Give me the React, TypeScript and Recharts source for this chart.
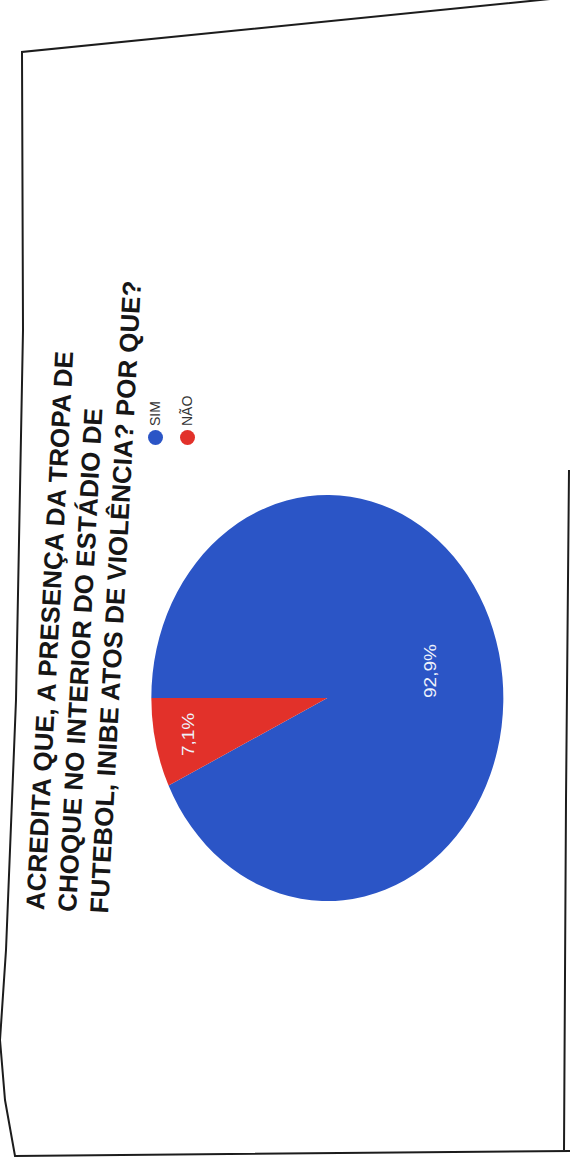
import React from "react";
import { PieChart, Pie, Cell } from "recharts";

const categories = ["SIM", "NÃO"];
const values = [92.9, 7.1];
const sliceLabels = ["92,9%", "7,1%"];
const colors = ["#2b55c6", "#e2312a"];
const titleLines = [
  "ACREDITA QUE, A PRESENÇA DA TROPA DE",
  "CHOQUE NO INTERIOR DO ESTÁDIO DE",
  "FUTEBOL, INIBE ATOS DE VIOLÊNCIA? POR QUE?",
];

const data = categories.map((name, i) => ({ name, value: values[i], label: sliceLabels[i] }));

const FONT = "'Liberation Sans', Arial, Helvetica, sans-serif";
const RADIAN = Math.PI / 180;

const renderLabel = (props: any) => {
  const { cx, cy, midAngle, outerRadius, percent, index } = props;
  const r = outerRadius * (percent > 0.5 ? 0.6 : 0.81);
  const x = cx + r * Math.cos(-midAngle * RADIAN);
  const y = cy + r * Math.sin(-midAngle * RADIAN);
  return (
    <text
      x={x}
      y={y}
      fill="#eef2fb"
      fontSize={19}
      textAnchor="middle"
      dominantBaseline="central"
      fontFamily={FONT}
    >
      {data[index].label}
    </text>
  );
};

export default function App() {
  return (
    <div
      style={{
        position: "absolute",
        left: 0,
        top: 0,
        width: 570,
        height: 1165,
        background: "#ffffff",
        overflow: "hidden",
      }}
    >
      <svg width={570} height={1165} style={{ position: "absolute", left: 0, top: 0 }}>
        <polyline
          points="570,-3 22,52 23,330 16,700 6,950 0,1040 5,1100 15,1156 570,1151"
          fill="none"
          stroke="#1c1c1c"
          strokeWidth={2}
        />
        <polyline points="569,470 566,800 564,1150" fill="none" stroke="#1c1c1c" strokeWidth={2} />
      </svg>
      <div
        style={{
          position: "absolute",
          left: 0,
          top: 0,
          width: 1165,
          height: 570,
          transformOrigin: "0 0",
          transform: "translate(0px, 1165px) rotate(-90deg)",
        }}
      >
        <div
          style={{
            position: "absolute",
            left: 255,
            top: 19,
            transformOrigin: "0 16px",
            transform: "rotate(3deg)",
            fontFamily: FONT,
            fontWeight: "bold",
            fontSize: 26,
            lineHeight: "32px",
            color: "#161616",
            whiteSpace: "nowrap",
          }}
        >
          {titleLines.map((t, i) => (
            <div key={i}>{t}</div>
          ))}
        </div>
        <div style={{ position: "absolute", left: 720, top: 139, fontFamily: FONT }}>
          {categories.map((c, i) => (
            <div
              key={c}
              style={{ display: "flex", alignItems: "center", height: 32, whiteSpace: "nowrap" }}
            >
              <div
                style={{
                  width: 15,
                  height: 15,
                  borderRadius: "50%",
                  background: colors[i],
                  marginRight: 4,
                }}
              />
              <span style={{ fontSize: 14, color: "#333" }}>{c}</span>
            </div>
          ))}
        </div>
        <div
          style={{
            position: "absolute",
            left: 462 - 220,
            top: 323 - 220,
            width: 440,
            height: 440,
            transformOrigin: "50% 50%",
            transform: "scaleY(0.867)",
          }}
        >
          <PieChart width={440} height={440}>
            <Pie
              data={data}
              dataKey="value"
              nameKey="name"
              cx={220}
              cy={220}
              outerRadius={203}
              startAngle={90}
              endAngle={-270}
              isAnimationActive={false}
              label={renderLabel}
              labelLine={false}
              stroke="none"
            >
              {data.map((d, i) => (
                <Cell key={d.name} fill={colors[i]} />
              ))}
            </Pie>
          </PieChart>
        </div>
      </div>
    </div>
  );
}
